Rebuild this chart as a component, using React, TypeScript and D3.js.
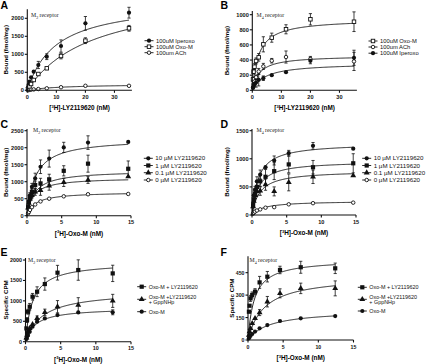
import React from 'react';
import * as d3 from 'd3';

// radioligand concentrations (nM)
const concLY = [0.25, 0.43, 0.75, 1.3, 2.2, 3.8, 6.7, 11.6, 20, 35];
const concOxoCD = [0.16, 0.26, 0.43, 0.71, 1.18, 1.95, 3.2, 5.3, 8.8, 14.6];
const concOxoEF = [0.13, 0.22, 0.36, 0.6, 1.0, 1.65, 2.75, 4.55, 7.5, 12.4];

// panel A, M2, bound fmol/mg
const ipA = [83, 150, 240, 360, 517, 703, 933, 1230, 1860, 2156];
const ipAErr = [20, 30, 40, 50, 60, 100, 80, 170, 190, 150];
const oxoA = [30, 55, 100, 175, 286, 453, 611, 953, 1378, 1722];
const oxoAErr = [10, 15, 20, 30, 40, 30, 50, 80, 80, 80];
const achA = [5, 8, 12, 18, 25, 35, 55, 85, 125, 125];
const achAErr = [2, 2, 3, 3, 4, 5, 6, 8, 10, 10];

// panel B, M4
const oxoB = [145, 246, 312, 388, 436, 608, 696, 807, 939, 907];
const oxoBErr = [30, 30, 40, 40, 50, 100, 60, 60, 75, 130];
const achB = [40, 80, 116, 173, 249, 316, 391, 440, 413, 382];
const achBErr = [20, 20, 30, 30, 40, 40, 30, 80, 35, 120];
const ipB = [31, 58, 84, 102, 138, 160, 200, 240, 391, 430];
const ipBErr = [20, 20, 30, 60, 80, 30, 20, 20, 40, 100];

// panel C, M2 + LY2119620
const c10 = [250, 400, 600, 850, 1100, 1440, 1680, 2009, 2150, 2170];
const c10Err = [40, 60, 80, 100, 150, 200, 250, 150, 200, 60];
const c1 = [250, 400, 550, 700, 900, 950, 1070, 1320, 1530, 1380];
const c1Err = [40, 60, 80, 100, 120, 150, 150, 150, 250, 230];
const c01 = [230, 370, 500, 600, 700, 750, 880, 980, 1050, 1150];
const c01Err = [30, 50, 60, 80, 100, 150, 130, 120, 100, 60];
const c0 = [70, 110, 170, 250, 330, 420, 500, 570, 630, 640];
const c0Err = [10, 10, 15, 15, 20, 20, 20, 20, 20, 20];

// panel D, M4 + LY2119620
const d10 = [200, 350, 450, 600, 720, 850, 970, 1100, 1230, 1180];
const d10Err = [30, 40, 60, 80, 80, 40, 80, 50, 60, 15];
const d1 = [160, 280, 380, 500, 600, 680, 780, 900, 850, 920];
const d1Err = [30, 40, 60, 80, 100, 130, 150, 150, 120, 170];
const d01 = [150, 250, 350, 420, 430, 540, 420, 580, 680, 700];
const d01Err = [30, 40, 60, 80, 80, 100, 80, 150, 120, 40];
const d0 = [25, 40, 60, 80, 100, 130, 140, 190, 210, 220];
const d0Err = [5, 5, 8, 8, 10, 10, 10, 10, 10, 10];

// panel E, M2 specific CPM
const eLy = [326, 530, 734, 857, 1102, 1224, 1412, 1690, 1755, 1673];
const eLyErr = [50, 60, 60, 80, 80, 120, 150, 180, 250, 200];
const eGpp = [98, 163, 245, 326, 424, 571, 718, 857, 898, 1000];
const eGppErr = [20, 20, 30, 40, 50, 60, 80, 150, 180, 160];
const eOxo = [65, 122, 163, 245, 367, 490, 571, 653, 718, 720];
const eOxoErr = [10, 20, 20, 30, 40, 40, 50, 50, 50, 60];

// panel F, M4 specific CPM
const fLy = [189, 229, 278, 301, 323, 385, 423, 468, 486, 479];
const fLyErr = [15, 15, 20, 20, 20, 40, 35, 25, 40, 35];
const fGpp = [33, 56, 78, 111, 145, 183, 256, 312, 345, 345];
const fGppErr = [5, 8, 10, 15, 15, 20, 35, 30, 35, 50];
const fOxo = [11, 20, 29, 40, 56, 78, 100, 127, 145, 160];
const fOxoErr = [3, 3, 4, 5, 5, 6, 8, 10, 15, 12];

// one-site fits [Bmax, Kd]
const fitsA = [[2499, 9.85], [2793, 22.5], [175, 12]];
const fitsB = [[943, 2.27], [460, 2.5], [360, 4.5]];
const fitsC = [[2270, 1.2], [1330, 1.1], [1120, 0.9], [700, 1.2]];
const fitsD = [[1280, 0.9], [960, 0.9], [790, 1.1], [250, 1.6]];
const fitsE = [[1950, 1.0], [1250, 2.4], [830, 1.4]];
const fitsF = [[540, 0.9], [430, 2.3], [200, 3]];

const labelsLYA = ['100uM Iperoxo', '100uM Oxo-M', '100um ACh'];
const labelsLYB = ['100uM Oxo-M', '100um ACh', '100uM Iperoxo'];
const labelsDose = ['10 µM LY2119620', '1 µM LY2119620', '0.1 µM LY2119620', '0 µM LY2119620'];
const labelsCPM = [['Oxo-M + LY2119620'], ['Oxo-M +LY2119620', '+ GppNHp'], ['Oxo-M']];

const SANS = 'Liberation Sans, Arial, sans-serif';
const SERIF = 'Liberation Serif, Times New Roman, serif';

function Marker({ type, x, y }) {
  const s = 2.1;
  if (type === 'circle') return <circle cx={x} cy={y} r={s} fill="#111" />;
  if (type === 'openCircle')
    return <circle cx={x} cy={y} r={s - 0.35} fill="#fff" stroke="#111" strokeWidth={0.9} />;
  if (type === 'square') return <rect x={x - s} y={y - s} width={2 * s} height={2 * s} fill="#111" />;
  if (type === 'openSquare')
    return <rect x={x - s + 0.35} y={y - s + 0.35} width={2 * s - 0.7} height={2 * s - 0.7} fill="#fff" stroke="#111" strokeWidth={0.9} />;
  const tri = d3.symbol().type(d3.symbolTriangle).size(15)();
  return <path d={tri} transform={`translate(${x},${y})`} fill="#111" />;
}

function Panel({ p }) {
  const x = d3.scaleLinear().domain(p.xDomain).range(p.xRange);
  const y = d3.scaleLinear().domain(p.yDomain).range(p.yRange);
  const x0 = p.xRange[0];
  const y0 = p.yRange[0];
  const xMid = (p.xRange[0] + p.xRange[1]) / 2;
  const yMid = (p.yRange[0] + p.yRange[1]) / 2;
  const maxC = d3.max(p.conc);
  const curve = d3.line().x(d => x(d[0])).y(d => y(d[1]));

  return (
    <g>
      <text x={p.letter[0]} y={p.letter[1]} fontFamily={SANS} fontWeight="bold" fontSize={10.5}>{p.name}</text>
      {/* fitted curves */}
      {p.series.map((s, i) => {
        const [bmax, kd] = s.fit;
        const pts = d3.range(0, 121).map(k => {
          const c = (maxC * k) / 120;
          return [c, (bmax * c) / (kd + c)];
        });
        return <path key={'c' + i} d={curve(pts)} fill="none" stroke="#111" strokeWidth={0.9} />;
      })}
      {/* error bars */}
      {p.series.map((s, i) => (
        <g key={'e' + i} stroke="#111" strokeWidth={0.8}>
          {s.values.map((v, j) => {
            const cx = x(p.conc[j]);
            const yt = y(v + s.errors[j]);
            const yb = y(Math.max(0, v - s.errors[j]));
            if (yb - yt < 4.5) return null;
            return (
              <g key={j}>
                <line x1={cx} x2={cx} y1={yt} y2={yb} />
                <line x1={cx - 1.6} x2={cx + 1.6} y1={yt} y2={yt} />
                <line x1={cx - 1.6} x2={cx + 1.6} y1={yb} y2={yb} />
              </g>
            );
          })}
        </g>
      ))}
      {/* markers */}
      {p.series.map((s, i) => (
        <g key={'m' + i}>
          {s.values.map((v, j) => (
            <Marker key={j} type={s.marker} x={x(p.conc[j])} y={y(v)} />
          ))}
        </g>
      ))}
      {/* axes */}
      <g stroke="#111" strokeWidth={1.1}>
        <line x1={x0} x2={x0} y1={y0 + 0.55} y2={p.yRange[1]} />
        <line x1={x0 - 0.55} x2={p.xRange[1]} y1={y0} y2={y0} />
        {p.yTicks.map(t => (
          <line key={'yt' + t} x1={x0 - 2.5} x2={x0} y1={y(t)} y2={y(t)} />
        ))}
        {p.xTicks.map(t => (
          <line key={'xt' + t} x1={x(t)} x2={x(t)} y1={y0} y2={y0 + 2.5} />
        ))}
      </g>
      <g fontFamily={SANS} fontWeight="bold" fontSize={p.tickFont} fill="#111">
        {p.yTicks.map(t => (
          <text key={'yl' + t} x={x0 - 3.5} y={y(t) + 2} textAnchor="end">{t}</text>
        ))}
        {p.xTicks.map(t => (
          <text key={'xl' + t} x={x(t)} y={y0 + 8.6} textAnchor="middle">{t}</text>
        ))}
      </g>
      <text x={xMid} y={y0 + 20} textAnchor="middle" fontFamily={SANS} fontWeight="bold" fontSize={6.4}>
        [<tspan fontSize={4} dy={-2.5}>3</tspan><tspan dy={2.5}>H]-{p.xTitle} (nM)</tspan>
      </text>
      <text transform={`translate(${p.yTitleX},${yMid}) rotate(-90)`} textAnchor="middle" dominantBaseline="central"
        fontFamily={SANS} fontWeight="bold" fontSize={6.2}>{p.yTitle}</text>
      <text x={p.receptor[0]} y={p.receptor[1]} fontFamily={SERIF} fontSize={5.8} fill="#222">
        M<tspan fontSize={4} dy={1.5}>{p.sub}</tspan><tspan dy={-1.5}> receptor</tspan>
      </text>
      {/* legend */}
      <g fontFamily={SANS} fontSize={p.legendFont} fill="#111">
        {p.series.map((s, i) => {
          const ly = p.legendRows[i];
          const mx = p.legendX;
          return (
            <g key={'l' + i}>
              <line x1={mx - 4.5} x2={mx + 4.5} y1={ly} y2={ly} stroke="#111" strokeWidth={0.9} />
              <Marker type={s.marker} x={mx} y={ly} />
              {s.label.map((t, k) => (
                <text key={k} x={mx + 7} y={ly + p.legendFont * 0.35 + (k - (s.label.length - 1) / 2) * p.legendFont * 0.95}>
                  {t}
                </text>
              ))}
            </g>
          );
        })}
      </g>
    </g>
  );
}

const mk = (values, errors, fit, marker, label) => ({ values, errors, fit, marker, label });

const panels = [
  {
    name: 'A', letter: [0.5, 9], sub: '2', receptor: [31, 17], tickFont: 5.6,
    conc: concLY, xDomain: [0, 36], xRange: [27.3, 131.9], yDomain: [0, 2250], yRange: [90.3, 9.3],
    xTicks: [0, 10, 20, 30], yTicks: [0, 500, 1000, 1500, 2000],
    xTitle: 'LY2119620', yTitle: 'Bound (fmol/mg)', yTitleX: 5.5,
    legendX: 149, legendRows: [40.7, 46.7, 52.7], legendFont: 5.8,
    series: [
      mk(ipA, ipAErr, fitsA[0], 'circle', [labelsLYA[0]]),
      mk(oxoA, oxoAErr, fitsA[1], 'openSquare', [labelsLYA[1]]),
      mk(achA, achAErr, fitsA[2], 'openCircle', [labelsLYA[2]]),
    ],
  },
  {
    name: 'B', letter: [220.5, 9], sub: '4', receptor: [256.5, 17], tickFont: 5.6,
    conc: concLY, xDomain: [0, 36], xRange: [252.3, 356.9], yDomain: [0, 1050], yRange: [90.3, 10.9],
    xTicks: [0, 10, 20, 30], yTicks: [0, 200, 400, 600, 800, 1000],
    xTitle: 'LY2119620', yTitle: 'Bound (fmol/mg)', yTitleX: 226,
    legendX: 373, legendRows: [41, 47, 53.2], legendFont: 5.8,
    series: [
      mk(oxoB, oxoBErr, fitsB[0], 'openSquare', [labelsLYB[0]]),
      mk(achB, achBErr, fitsB[1], 'openCircle', [labelsLYB[1]]),
      mk(ipB, ipBErr, fitsB[2], 'circle', [labelsLYB[2]]),
    ],
  },
  {
    name: 'C', letter: [0.5, 128], sub: '2', receptor: [33, 132], tickFont: 5.6,
    conc: concOxoCD, xDomain: [0, 15], xRange: [27, 131], yDomain: [0, 2550], yRange: [215.7, 129],
    xTicks: [0, 5, 10, 15], yTicks: [0, 500, 1000, 1500, 2000, 2500],
    xTitle: 'Oxo-M', yTitle: 'Bound (fmol/mg)', yTitleX: 5.5,
    legendX: 148.3, legendRows: [158.3, 165.5, 172.7, 180], legendFont: 6.2,
    series: [
      mk(c10, c10Err, fitsC[0], 'circle', [labelsDose[0]]),
      mk(c1, c1Err, fitsC[1], 'square', [labelsDose[1]]),
      mk(c01, c01Err, fitsC[2], 'triangle', [labelsDose[2]]),
      mk(c0, c0Err, fitsC[3], 'openCircle', [labelsDose[3]]),
    ],
  },
  {
    name: 'D', letter: [220.5, 128], sub: '4', receptor: [256.5, 132], tickFont: 5.6,
    conc: concOxoCD, xDomain: [0, 15], xRange: [252, 356], yDomain: [0, 1530], yRange: [215, 129],
    xTicks: [0, 5, 10, 15], yTicks: [0, 500, 1000, 1500],
    xTitle: 'Oxo-M', yTitle: 'Bound (fmol/mg)', yTitleX: 226,
    legendX: 366.7, legendRows: [158.3, 165.5, 172.7, 180], legendFont: 6.2,
    series: [
      mk(d10, d10Err, fitsD[0], 'circle', [labelsDose[0]]),
      mk(d1, d1Err, fitsD[1], 'square', [labelsDose[1]]),
      mk(d01, d01Err, fitsD[2], 'triangle', [labelsDose[2]]),
      mk(d0, d0Err, fitsD[3], 'openCircle', [labelsDose[3]]),
    ],
  },
  {
    name: 'E', letter: [0.5, 256], sub: '2', receptor: [28, 262], tickFont: 5.4,
    conc: concOxoEF, xDomain: [0, 15], xRange: [25.5, 131], yDomain: [0, 2050], yRange: [341.7, 258],
    xTicks: [0, 5, 10, 15], yTicks: [0, 500, 1000, 1500, 2000],
    xTitle: 'Oxo-M', yTitle: 'Specific CPM', yTitleX: 5,
    legendX: 141.7, legendRows: [286.7, 299.3, 311.7], legendFont: 5.4,
    series: [
      mk(eLy, eLyErr, fitsE[0], 'square', labelsCPM[0]),
      mk(eGpp, eGppErr, fitsE[1], 'triangle', labelsCPM[1]),
      mk(eOxo, eOxoErr, fitsE[2], 'circle', labelsCPM[2]),
    ],
  },
  {
    name: 'F', letter: [220.5, 256], sub: '4', receptor: [249.5, 262], tickFont: 5.2,
    conc: concOxoEF, xDomain: [0, 15], xRange: [248, 353.5], yDomain: [0, 560], yRange: [340, 256.2],
    xTicks: [0, 5, 10, 15], yTicks: [0, 150, 300, 450],
    xTitle: 'Oxo-M', yTitle: 'Specific CPM', yTitleX: 231.5,
    legendX: 362.3, legendRows: [287.3, 299.3, 311], legendFont: 5.4,
    series: [
      mk(fLy, fLyErr, fitsF[0], 'square', labelsCPM[0]),
      mk(fGpp, fGppErr, fitsF[1], 'triangle', labelsCPM[1]),
      mk(fOxo, fOxoErr, fitsF[2], 'circle', labelsCPM[2]),
    ],
  },
];

export default function App() {
  return (
    <svg width={440} height={364} style={{ position: 'absolute', left: 0, top: 0, background: '#fff' }}>
      <rect width={440} height={364} fill="#fff" />
      {panels.map(p => (
        <Panel key={p.name} p={p} />
      ))}
    </svg>
  );
}
